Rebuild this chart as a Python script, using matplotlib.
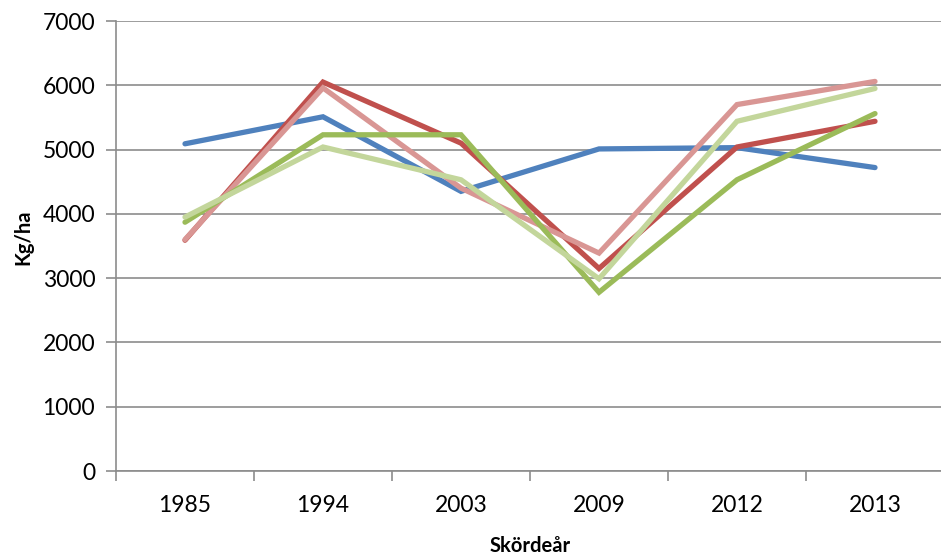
import matplotlib.pyplot as plt
import numpy as np

years = ["1985", "1994", "2003", "2009", "2012", "2013"]
blue = [5090, 5510, 4350, 5010, 5030, 4720]
red = [3590, 6050, 5100, 3150, 5040, 5440]
pink = [3600, 5960, 4400, 3390, 5700, 6060]
green = [3870, 5230, 5230, 2780, 4530, 5560]
lightgreen = [3950, 5040, 4530, 2990, 5440, 5950]

plt.rcParams['font.family'] = ['Lato', 'DejaVu Sans']

fig = plt.figure(figsize=(9.41, 5.57), dpi=100)
# plot area in pixels: left 116, right ~944, top 21, bottom 471
ax = fig.add_axes([116/941, (557-471)/557, 828/941, 450/557])

x = np.arange(len(years))
for vals, col in [(blue, '#4F81BD'), (red, '#C0504D'), (pink, '#D99694'),
                  (green, '#9BBB59'), (lightgreen, '#C3D69B')]:
    ax.plot(x, vals, color=col, lw=3.8, solid_capstyle='round',
            solid_joinstyle='miter', zorder=3)

ax.set_xlim(-0.5, len(years) - 0.5)
ax.set_ylim(0, 7000)
ax.set_yticks(range(0, 7001, 1000))
ax.yaxis.grid(True, color='#8C8C8C', lw=1.2)
ax.set_axisbelow(True)

ax.set_xticks(x)
ax.set_xticklabels(years)
ax.set_xticks(np.arange(-0.5, len(years)), minor=True)
ax.tick_params(axis='x', which='major', length=0, pad=17, labelsize=16.5)
ax.tick_params(axis='x', which='minor', length=7, color='#8C8C8C', width=1.2)
ax.tick_params(axis='y', length=7, color='#8C8C8C', width=1.2, labelsize=16.5, pad=8)

for s in ['top', 'right']:
    ax.spines[s].set_visible(False)
for s in ['left', 'bottom']:
    ax.spines[s].set_color('#8C8C8C')
    ax.spines[s].set_linewidth(1.2)

ax.set_xlabel('Skördeår', fontsize=14.5, fontweight='bold')
ax.xaxis.set_label_coords(0.5, -0.145)
ax.set_ylabel('Kg/ha', fontsize=14.5, fontweight='bold')
ax.yaxis.set_label_coords(-0.1, 0.52)

fig.savefig('out.png', dpi=100)
